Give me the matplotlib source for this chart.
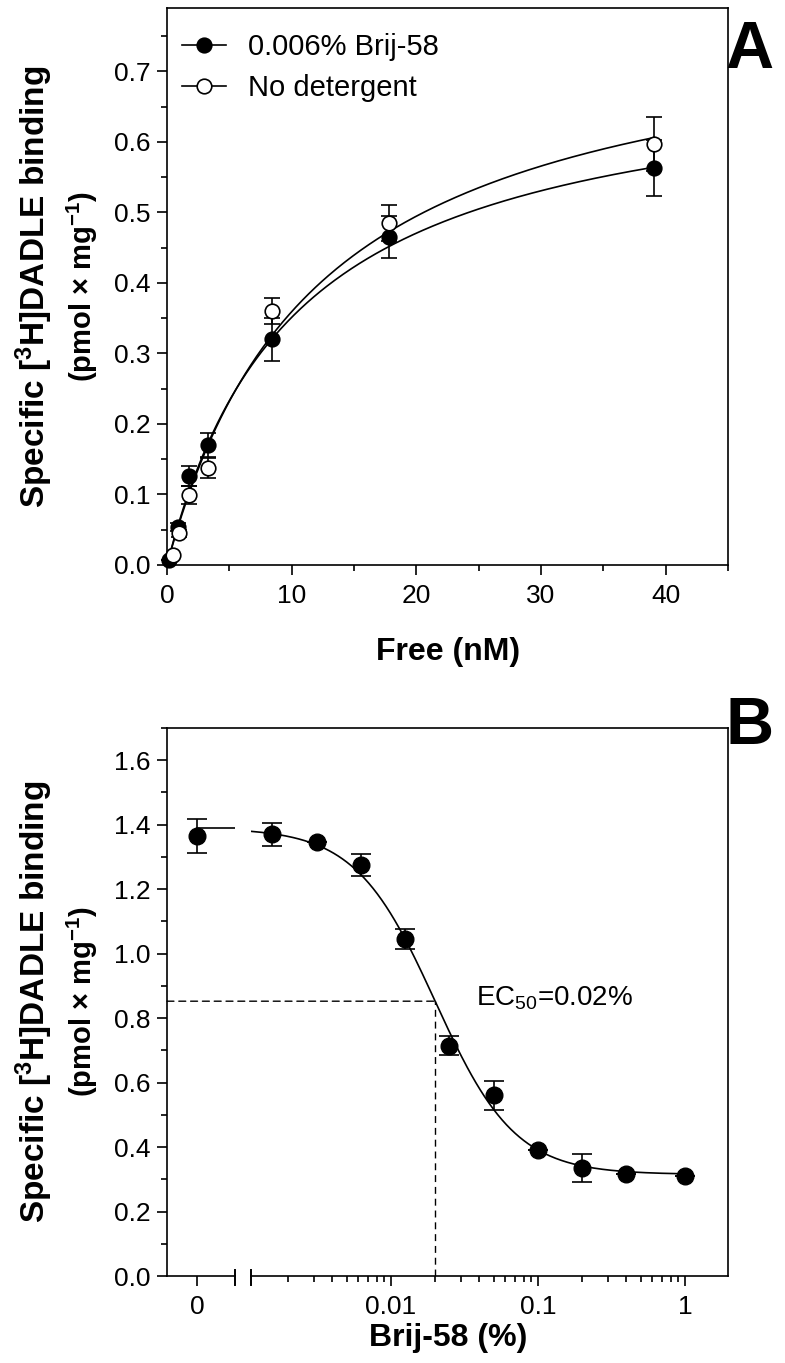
import numpy as np
import matplotlib
matplotlib.use('Agg')
import matplotlib.pyplot as plt
from matplotlib.lines import Line2D
from matplotlib.patches import ConnectionPatch
from matplotlib.ticker import MultipleLocator, LogLocator, NullFormatter, FixedLocator, FixedFormatter

plt.rcParams.update({'font.family': ['Liberation Sans', 'DejaVu Sans'],
                     'mathtext.fontset': 'custom',
                     'mathtext.rm': 'Liberation Sans',
                     'mathtext.it': 'Liberation Sans:italic',
                     'mathtext.bf': 'Liberation Sans:bold',
                     'axes.linewidth': 1.2,
                     'xtick.major.width': 1.2, 'ytick.major.width': 1.2,
                     'xtick.minor.width': 1.2, 'ytick.minor.width': 1.2,
                     'xtick.major.size': 7, 'ytick.major.size': 7,
                     'xtick.minor.size': 4.5, 'ytick.minor.size': 4.5,
                     'xtick.direction': 'out', 'ytick.direction': 'out',
                     'xtick.labelsize': 19, 'ytick.labelsize': 19})

# panel A - saturation binding, free [3H]DADLE (nM) vs specific binding
free_brij = [0.2, 0.9, 1.8, 3.3, 8.4, 17.8, 39.1]
bound_brij = [0.007, 0.054, 0.126, 0.170, 0.320, 0.465, 0.563]
err_brij = [0.0, 0.006, 0.014, 0.017, 0.030, 0.030, 0.040]
free_nodet = [0.5, 1.0, 1.8, 3.3, 8.4, 17.8, 39.1]
bound_nodet = [0.014, 0.045, 0.099, 0.138, 0.360, 0.485, 0.597]
err_nodet = [0.0, 0.005, 0.013, 0.014, 0.018, 0.025, 0.038]
labels_a = ['0.006% Brij-58', 'No detergent']
# one-site fit parameters (Bmax, Kd)
bmax_brij, kd_brij = 0.713, 10.3
bmax_nodet, kd_nodet = 0.794, 12.1

# panel B - Brij-58 concentration (%) vs specific binding
brij_conc = [0, 0.0015625, 0.003125, 0.00625, 0.0125, 0.025, 0.05, 0.1, 0.2, 0.4, 1.0]
binding_b = [1.365, 1.370, 1.345, 1.275, 1.045, 0.715, 0.560, 0.390, 0.335, 0.315, 0.310]
err_b = [0.052, 0.035, 0.0, 0.035, 0.030, 0.028, 0.045, 0.0, 0.042, 0.0, 0.0]
# sigmoidal fit parameters
fit_top, fit_bottom, ec50, hill = 1.39, 0.315, 0.02, 1.6

W, H = 785, 1363
fig = plt.figure(figsize=(W / 100, H / 100), dpi=100)


def px(x0, y0, x1, y1):
    # axes rect from pixel box (left, top, right, bottom)
    return [x0 / W, 1 - y1 / H, (x1 - x0) / W, (y1 - y0) / H]


def one_site(x, bmax, kd):
    return bmax * x / (kd + x)


def sigmoid(x):
    return fit_bottom + (fit_top - fit_bottom) / (1 + 10 ** ((np.log10(x) - np.log10(ec50)) * hill))


ylab1 = r'Specific [$\mathbf{{}^{3}}$H]DADLE binding'
ylab2 = r'(pmol × mg$\mathbf{{}^{-1}}$)'

# ---------------- panel A ----------------
ax = fig.add_axes(px(167, 8, 728, 565))
xx = np.linspace(0, max(free_brij), 300)
ax.plot(xx, one_site(xx, bmax_brij, kd_brij), color='k', lw=1.2, zorder=2)
ax.plot(xx, one_site(xx, bmax_nodet, kd_nodet), color='k', lw=1.2, zorder=2)
ax.errorbar(free_brij, bound_brij, yerr=err_brij, fmt='o', ms=10.5, mfc='k', mec='k', mew=1.2,
            ecolor='k', elinewidth=1.2, capsize=6, capthick=1.2, clip_on=False, zorder=3)
ax.errorbar(free_nodet, bound_nodet, yerr=err_nodet, fmt='o', ms=10.5, mfc='white', mec='k', mew=1.2,
            ecolor='k', elinewidth=1.2, capsize=6, capthick=1.2, clip_on=False, zorder=4)
ax.set_xlim(0, 45)
ax.set_ylim(0, 0.79)
ax.xaxis.set_major_locator(MultipleLocator(10))
ax.xaxis.set_minor_locator(MultipleLocator(5))
ax.yaxis.set_major_locator(MultipleLocator(0.1))
ax.yaxis.set_minor_locator(MultipleLocator(0.05))
ax.yaxis.set_major_formatter(matplotlib.ticker.FormatStrFormatter('%.1f'))
ax.tick_params(axis='both', which='both', top=False, right=False)
ax.tick_params(axis='x', pad=7)
ax.tick_params(axis='y', pad=5)

handles = [Line2D([], [], color='k', lw=1.2, marker='o', ms=10.5, mfc='k', mec='k', mew=1.2),
           Line2D([], [], color='k', lw=1.2, marker='o', ms=10.5, mfc='white', mec='k', mew=1.2)]
ax.legend(handles, labels_a, loc='upper left', bbox_to_anchor=(0.027, 0.955), frameon=False,
          fontsize=21, handlelength=1.5, handletextpad=0.75, labelspacing=0.45, borderpad=0, borderaxespad=0)

fig.text(448 / W, 1 - 660 / H, 'Free (nM)', ha='center', va='baseline', fontsize=23, fontweight='bold')
fig.text(34 / W, 1 - 287 / H, ylab1, rotation=90, ha='center', va='center', fontsize=24, fontweight='bold')
fig.text(82 / W, 1 - 287 / H, ylab2, rotation=90, ha='center', va='center', fontsize=21, fontweight='bold')
fig.text(749 / W, 1 - 68 / H, 'A', ha='center', va='baseline', fontsize=48, fontweight='bold')

# ---------------- panel B (broken log axis) ----------------
frame = fig.add_axes(px(167, 728, 728, 1276))
frame.set_ylim(0, 1.7)
frame.set_xlim(0, 1)
frame.set_xticks([])
frame.spines['bottom'].set_visible(False)
frame.yaxis.set_major_locator(MultipleLocator(0.2))
frame.yaxis.set_minor_locator(MultipleLocator(0.1))
frame.yaxis.set_major_formatter(matplotlib.ticker.FormatStrFormatter('%.1f'))
frame.tick_params(axis='y', which='both', right=False, pad=5)

axz = fig.add_axes(px(167, 728, 235, 1276), facecolor='none')
axb = fig.add_axes(px(251, 728, 728, 1276), facecolor='none')
for a in (axz, axb):
    a.set_ylim(0, 1.7)
    a.set_yticks([])
    for s in ('left', 'right', 'top'):
        a.spines[s].set_visible(False)
    a.tick_params(axis='x', which='both', top=False, pad=7)

axz.set_xlim(-30, 38)
axz.set_xticks([0])
axz.set_xticklabels(['0'])

axb.set_xscale('log')
axb.set_xlim(0.00112, 1.96)
axb.xaxis.set_major_locator(FixedLocator([0.01, 0.1, 1]))
axb.xaxis.set_major_formatter(FixedFormatter(['0.01', '0.1', '1']))
axb.xaxis.set_minor_locator(LogLocator(base=10, subs=np.arange(2, 10)))
axb.xaxis.set_minor_formatter(NullFormatter())

# break marks at the ends of the two axis segments
for a, xe in ((axz, 1), (axb, 0)):
    a.plot([xe, xe], [-0.017, 0.011], transform=a.transAxes, color='k', lw=1.4, clip_on=False)

# fitted curve
axz.plot([0, 38], [fit_top, fit_top], color='k', lw=1.2, zorder=2)
xc = np.logspace(np.log10(0.00112), 0, 300)
axb.plot(xc, sigmoid(xc), color='k', lw=1.2, zorder=2)

# data points: zero on the left segment, the rest on the log segment
axz.errorbar(brij_conc[:1], binding_b[:1], yerr=err_b[:1], fmt='o', ms=12, mfc='k', mec='k',
             ecolor='k', elinewidth=1.2, capsize=7, capthick=1.2, clip_on=False, zorder=3)
axb.errorbar(brij_conc[1:], binding_b[1:], yerr=err_b[1:], fmt='o', ms=12, mfc='k', mec='k',
             ecolor='k', elinewidth=1.2, capsize=7, capthick=1.2, clip_on=False, zorder=3)

# EC50 guides
half = sigmoid(ec50)
axb.plot([ec50, ec50], [0, half], color='k', lw=1.0, ls=(0, (5, 3.5)))
con = ConnectionPatch(xyA=(0, half), coordsA=frame.get_yaxis_transform(),
                      xyB=(ec50, half), coordsB=axb.transData,
                      color='k', lw=1.0, ls=(0, (5, 3.5)), arrowstyle='-', shrinkA=0, shrinkB=0)
fig.add_artist(con)
axb.text(0.038, half + 0.01, r'EC$_{\mathrm{50}}$=0.02%', ha='left', va='center', fontsize=20)

fig.text(448 / W, 1 - 1346 / H, 'Brij-58 (%)', ha='center', va='baseline', fontsize=23, fontweight='bold')
fig.text(34 / W, 1 - 1002 / H, ylab1, rotation=90, ha='center', va='center', fontsize=24, fontweight='bold')
fig.text(82 / W, 1 - 1002 / H, ylab2, rotation=90, ha='center', va='center', fontsize=21, fontweight='bold')
fig.text(750 / W, 1 - 744 / H, 'B', ha='center', va='baseline', fontsize=48, fontweight='bold')

fig.savefig('out.png', dpi=100)
